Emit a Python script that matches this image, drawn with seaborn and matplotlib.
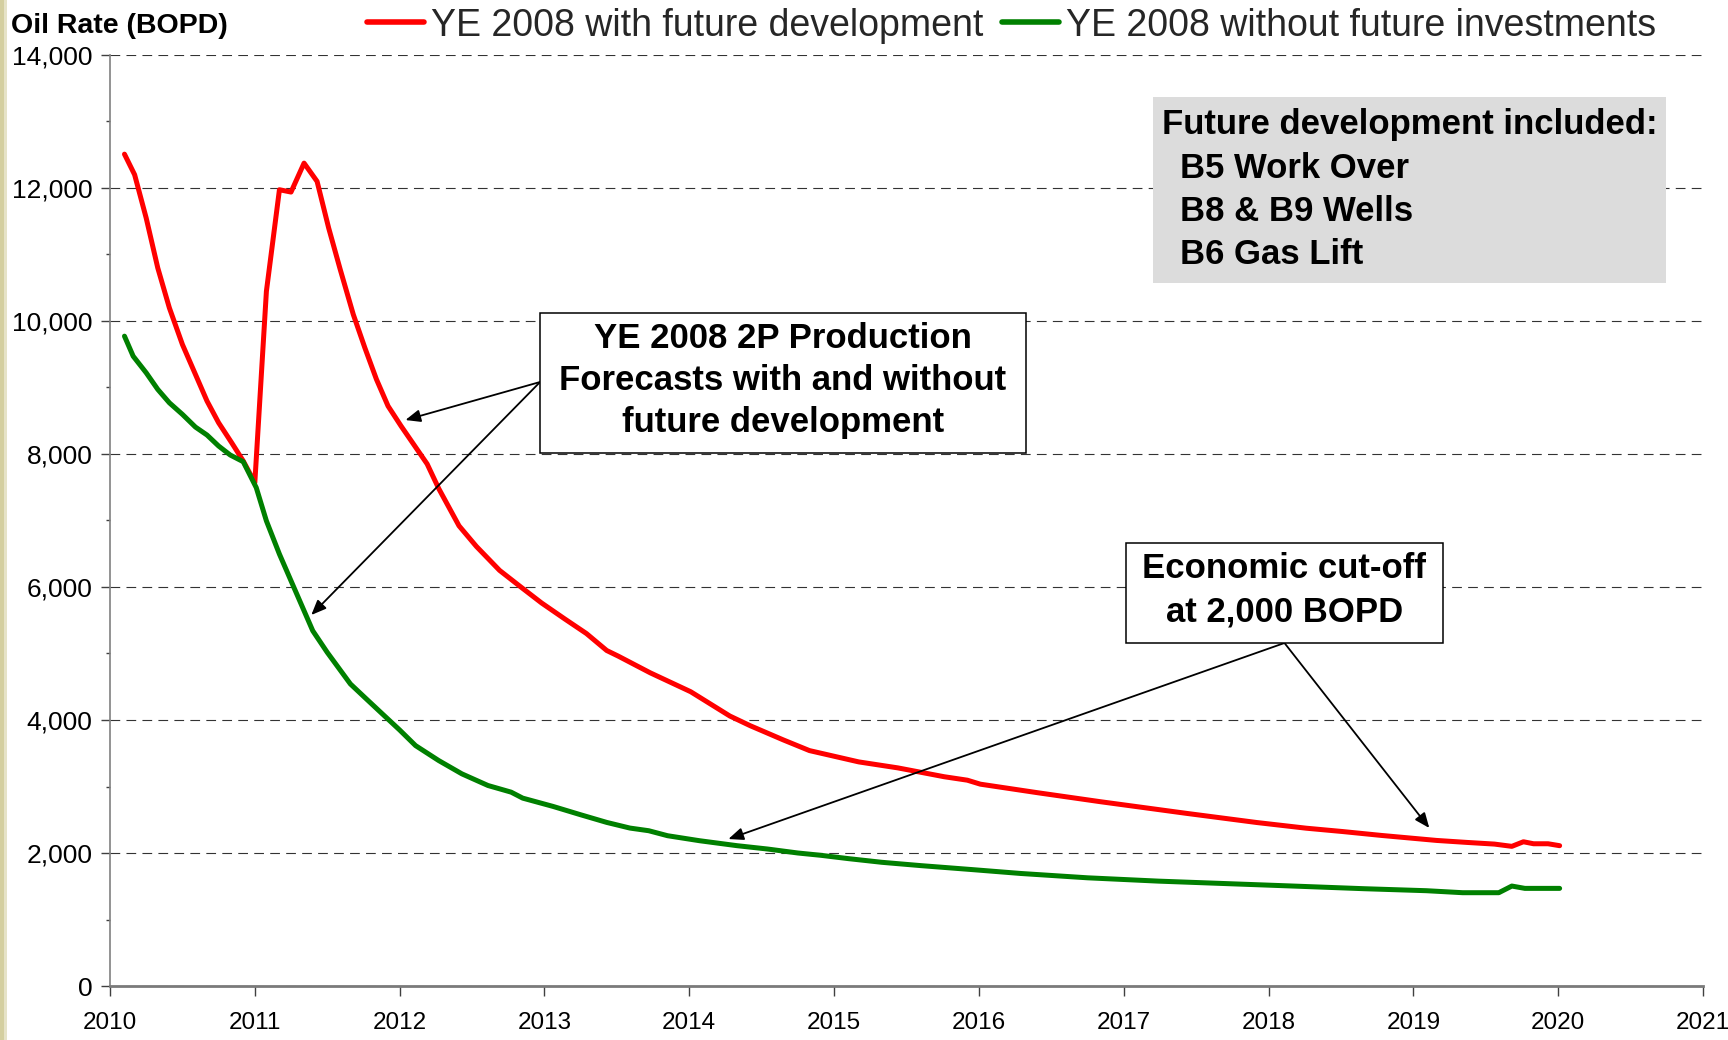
import numpy as np
import pandas as pd
import matplotlib
matplotlib.use("Agg")
import matplotlib.pyplot as plt
import seaborn as sns
from matplotlib.patches import Rectangle
from matplotlib.ticker import MultipleLocator

# ---------------- data ----------------
series_names = ["YE 2008 with future development", "YE 2008 without future investments"]

red_years = [2010.10, 2010.17, 2010.25, 2010.33, 2010.41, 2010.50, 2010.59, 2010.67, 2010.75, 2010.84,
             2010.92, 2011.00, 2011.08, 2011.17, 2011.25, 2011.34, 2011.43, 2011.51, 2011.59, 2011.68,
             2011.76, 2011.84, 2011.92, 2012.01, 2012.19, 2012.27, 2012.41, 2012.53, 2012.69, 2012.84,
             2012.98, 2013.14, 2013.29, 2013.43, 2013.51, 2013.73, 2014.01, 2014.28, 2014.42, 2014.65,
             2014.83, 2015.17, 2015.44, 2015.76, 2015.92, 2016.01, 2016.41, 2016.84, 2017.43, 2017.92,
             2018.26, 2018.51, 2018.78, 2019.16, 2019.37, 2019.56, 2019.68, 2019.76, 2019.83, 2019.93,
             2020.01]
red_rate = [12509, 12200, 11548, 10797, 10197, 9647, 9197, 8796, 8470, 8170,
            7895, 7569, 10447, 11974, 11939, 12374, 12099, 11398, 10773, 10098,
            9596, 9122, 8721, 8420, 7850, 7480, 6920, 6610, 6250, 5995,
            5760, 5520, 5300, 5045, 4960, 4710, 4425, 4060, 3915, 3700,
            3540, 3370, 3280, 3147, 3095, 3035, 2905, 2771, 2597, 2458,
            2373, 2323, 2264, 2189, 2159, 2134, 2100, 2169, 2139, 2139,
            2110]

green_years = [2010.10, 2010.16, 2010.25, 2010.33, 2010.41, 2010.50, 2010.59, 2010.67, 2010.75, 2010.83,
               2010.92, 2011.01, 2011.08, 2011.17, 2011.27, 2011.40, 2011.50, 2011.66, 2011.77, 2011.88,
               2012.00, 2012.11, 2012.27, 2012.43, 2012.61, 2012.77, 2012.85, 2013.06, 2013.25, 2013.43,
               2013.59, 2013.72, 2013.85, 2014.07, 2014.33, 2014.54, 2014.75, 2014.91, 2015.10, 2015.33,
               2015.60, 2015.95, 2016.29, 2016.75, 2017.24, 2017.68, 2018.17, 2018.66, 2019.09, 2019.34,
               2019.59, 2019.68, 2019.77, 2020.01]
green_rate = [9772, 9471, 9221, 8971, 8770, 8596, 8405, 8285, 8120, 7985,
              7884, 7494, 6994, 6494, 5993, 5342, 5017, 4542, 4317, 4093,
              3850, 3615, 3390, 3190, 3015, 2915, 2825, 2700, 2575, 2460,
              2375, 2335, 2260, 2185, 2110, 2060, 2000, 1965, 1915, 1860,
              1810, 1751, 1692, 1627, 1577, 1542, 1503, 1463, 1433, 1403,
              1403, 1503, 1468, 1468]

x_ticks = list(range(2010, 2022))
y_ticks = list(range(0, 14001, 2000))
x_tick_labels = [str(v) for v in x_ticks]
y_tick_labels = [f"{v:,}" for v in y_ticks]

box1_lines = ["YE 2008 2P Production", "Forecasts with and without", "future development"]
box2_lines = ["Economic cut-off", "at 2,000 BOPD"]
box3_lines = ["Future development included:", "B5 Work Over", "B8 & B9 Wells", "B6 Gas Lift"]

df = pd.concat([
    pd.DataFrame({"Year": red_years, "Rate": red_rate, "Case": series_names[0]}),
    pd.DataFrame({"Year": green_years, "Rate": green_rate, "Case": series_names[1]}),
], ignore_index=True)

# ---------------- style ----------------
sns.set_theme(style="white")
plt.rcParams['font.family'] = ['Liberation Sans', 'DejaVu Sans']
plt.rcParams['lines.scale_dashes'] = False

W, H = 1728, 1040
def fx(px):
    return px / W
def fy(py):
    return 1 - py / H

fig = plt.figure(figsize=(W / 100, H / 100), dpi=100)
fig.patch.set_facecolor("white")
ax = fig.add_axes([fx(110), fy(986), (1703 - 110) / W, (986 - 55) / H])
ax.set_facecolor("white")

sns.lineplot(data=df, x="Year", y="Rate", hue="Case", palette=["#ff0000", "#008000"],
             linewidth=3.6, sort=False, estimator=None, ax=ax,
             solid_capstyle="round", solid_joinstyle="round")

ax.set_xlim(2010, 2021)
ax.set_ylim(0, 14000)
ax.set_xticks(x_ticks)
ax.set_xticklabels(x_tick_labels)
ax.set_yticks(y_ticks)
ax.set_yticklabels(y_tick_labels)
ax.yaxis.set_minor_locator(MultipleLocator(1000))
ax.set_xlabel("")
ax.set_ylabel("")

ax.yaxis.grid(True, which="major", linestyle=(0, (7, 4.5)), color="#333333", linewidth=0.8)
ax.xaxis.grid(False)
ax.set_axisbelow(True)

for s in ["top", "right"]:
    ax.spines[s].set_visible(False)
ax.spines["left"].set_color("#808080")
ax.spines["left"].set_linewidth(1.2)
ax.spines["bottom"].set_color("#7a7a7a")
ax.spines["bottom"].set_linewidth(2.0)

ax.tick_params(axis="y", which="major", left=True, direction="out", length=6.5, width=1,
               color="#404040", pad=6, labelsize=19, labelcolor="black")
ax.tick_params(axis="y", which="minor", left=True, direction="out", length=3.2, width=1,
               color="#404040")
ax.tick_params(axis="x", which="major", bottom=True, direction="out", length=7, width=1,
               color="#404040", pad=12, labelsize=17.5, labelcolor="black")

# legend at the top
sns.move_legend(ax, loc="center left", bbox_to_anchor=(fx(367), fy(25.5)),
                bbox_transform=fig.transFigure, ncol=2, frameon=False, title=None,
                fontsize=27, handlelength=1.52, handletextpad=0.19, columnspacing=0.5,
                borderpad=0, borderaxespad=0)
for ln in ax.get_legend().get_lines():
    ln.set_linewidth(4)

# y axis title
fig.text(fx(11), fy(33), "Oil Rate (BOPD)", fontsize=20.5, fontweight="bold",
         ha="left", va="baseline", color="black")

# left decorative stripe
fig.add_artist(Rectangle((0, 0), fx(4), 1, transform=fig.transFigure,
                         facecolor="#d4cfa0", edgecolor="none", zorder=5))
fig.add_artist(Rectangle((fx(4), 0), fx(3), 1, transform=fig.transFigure,
                         facecolor="#e6e3c8", edgecolor="none", zorder=5))

# annotation box 1
fig.add_artist(Rectangle((fx(540), fy(453)), (1026 - 540) / W, (453 - 313) / H,
                         transform=fig.transFigure, facecolor="white", edgecolor="black",
                         linewidth=1.1, zorder=3))
for txt, base in zip(box1_lines, [347.5, 390, 432]):
    fig.text(fx(783), fy(base), txt, fontsize=25, fontweight="bold", ha="center",
             va="baseline", color="black", zorder=4)

# annotation box 2
fig.add_artist(Rectangle((fx(1126), fy(643)), (1443 - 1126) / W, (643 - 543) / H,
                         transform=fig.transFigure, facecolor="white", edgecolor="black",
                         linewidth=1.1, zorder=3))
for txt, base in zip(box2_lines, [578, 621.5]):
    fig.text(fx(1284.5), fy(base), txt, fontsize=25, fontweight="bold", ha="center",
             va="baseline", color="black", zorder=4)

# grey info box
fig.add_artist(Rectangle((fx(1153), fy(283)), (1666 - 1153) / W, (283 - 97) / H,
                         transform=fig.transFigure, facecolor="#dcdcdc", edgecolor="none",
                         zorder=3))
for txt, xpos, base in zip(box3_lines, [1162, 1180, 1180, 1180], [134, 177.5, 221, 264.5]):
    fig.text(fx(xpos), fy(base), txt, fontsize=25, fontweight="bold", ha="left",
             va="baseline", color="black", zorder=4)

# arrows (data coordinates)
arrow_kw = dict(arrowstyle="-|>,head_length=0.6,head_width=0.25", color="black",
                lw=1.3, shrinkA=0, shrinkB=0, mutation_scale=15)
ax.annotate("", xy=(2012.04, 8511), xytext=(2012.97, 9083), arrowprops=arrow_kw)
ax.annotate("", xy=(2011.39, 5579), xytext=(2012.97, 9083), arrowprops=arrow_kw)
ax.annotate("", xy=(2014.27, 2210), xytext=(2018.11, 5158), arrowprops=arrow_kw)
ax.annotate("", xy=(2019.11, 2376), xytext=(2018.11, 5158), arrowprops=arrow_kw)

fig.savefig("out.png", dpi=100)
